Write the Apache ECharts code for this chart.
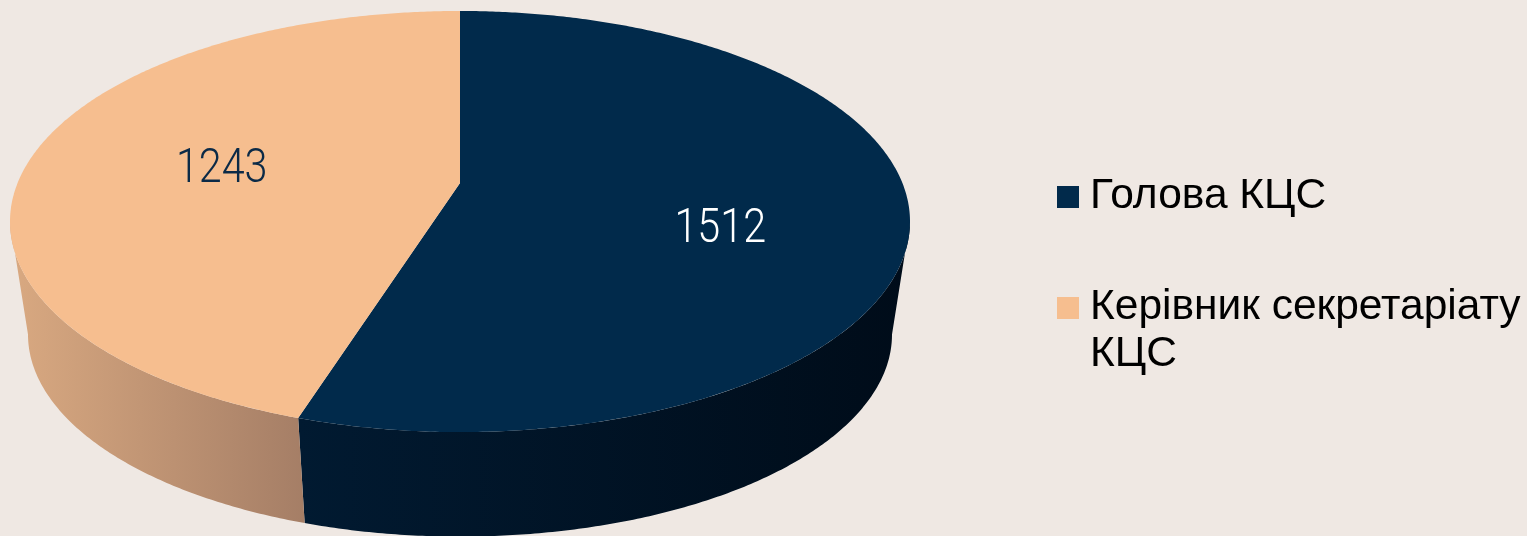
<!DOCTYPE html>
<html><head><meta charset="utf-8">
<script src="https://cdn.jsdelivr.net/npm/echarts@6/dist/echarts.min.js"></script>
<style>html,body{margin:0;padding:0;background:#efe8e3}#c{width:1527px;height:536px}</style>
</head><body><div id="c"></div>
<script>
// ---- data ----
const categories = ['Голова КЦС', 'Керівник секретаріату КЦС'];
const values = [1512, 1243];

// ---- style / layout ----
const topColors = ['#012a4b', '#f6be8f'];
const sideStops = [['#011a31', '#000c19'], ['#d9a981', '#a57e66']];
const labelColors = ['#ffffff', '#0b2a47'];
const L = {
  cx: 460, topY: 183, a: 442.4, b: 203.5, k: 0.183,
  botY: 297.5, botScale: 0.96,
  labelR: 0.57, labelDx: 7, labelDy: [29, 4],
  labelFont: '300 48px Roboto', labelScaleX: 0.86,
  legendX: 1057, legendY: [186, 297], box: 22, legendTextX: 1090, legendTextDy: -13,
  legendFont: '42.5px "Liberation Sans", Arial, sans-serif', legendLineH: 47, legendMaxW: 460
};

const total = values.reduce((s, v) => s + v, 0);
const starts = [];
values.reduce((acc, v) => { starts.push(acc); return acc + v / total * 360; }, 0);
// silhouette angles of the perspective disc (leftmost / rightmost points)
const silR = Math.acos(-L.k) * 180 / Math.PI, silL = 360 - silR;

function proj(thetaDeg, r, bottom) {
  const t = thetaDeg * Math.PI / 180;
  const u = r * Math.sin(t), v = -r * Math.cos(t);
  const w = 1 - L.k * v;
  const s = bottom ? L.botScale : 1;
  const cy = bottom ? L.botY : L.topY;
  return [L.cx + L.a * s * u / w, cy + L.b * s * v / w];
}
function arc(t0, t1, bottom) {
  const pts = [];
  const n = Math.max(2, Math.ceil(Math.abs(t1 - t0) * 2));
  for (let i = 0; i <= n; i++) pts.push(proj(t0 + (t1 - t0) * i / n, 1, bottom));
  return pts;
}

function renderItem(params, api) {
  const i = params.dataIndex;
  const t0 = starts[i], t1 = t0 + api.value(0) / total * 360;
  const children = [];
  // visible outer side (front part between silhouettes)
  const s0 = Math.max(t0, silR), s1 = Math.min(t1, silL);
  if (s1 > s0) {
    const pts = arc(s0, s1, false).concat(arc(s1, s0, true));
    children.push({
      type: 'polygon', z2: 1, shape: { points: pts },
      style: { fill: new echarts.graphic.LinearGradient(0, 0, 1, 0, [
        { offset: 0, color: sideStops[i][0] }, { offset: 1, color: sideStops[i][1] }]) }
    });
  }
  // top face
  const top = [proj(0, 0, false)].concat(arc(t0, t1, false));
  children.push({ type: 'polygon', z2: 10, shape: { points: top }, style: { fill: topColors[i] } });
  // value label
  const mid = (t0 + t1) / 2;
  const p = proj(mid, L.labelR, false);
  children.push({
    type: 'text', z2: 20, x: p[0] + L.labelDx, y: p[1] + L.labelDy[i], scaleX: L.labelScaleX,
    style: { text: String(api.value(0)), fill: labelColors[i], font: L.labelFont, align: 'center', verticalAlign: 'middle' }
  });
  return { type: 'group', children };
}

// legend text wrapping
const mc = document.createElement('canvas').getContext('2d');
mc.font = L.legendFont;
function wrap(str) {
  const words = str.split(' '); const lines = []; let cur = '';
  words.forEach(w => {
    const t = cur ? cur + ' ' + w : w;
    if (cur && mc.measureText(t).width > L.legendMaxW) { lines.push(cur); cur = w; } else cur = t;
  });
  if (cur) lines.push(cur);
  return lines.join('\n');
}

const legendEls = [];
categories.forEach((c, i) => {
  legendEls.push({ type: 'rect', left: L.legendX, top: L.legendY[i], shape: { width: L.box, height: L.box }, style: { fill: topColors[i] } });
  legendEls.push({ type: 'text', left: L.legendTextX, top: L.legendY[i] + L.legendTextDy,
    style: { text: wrap(c), fill: '#000000', font: L.legendFont, lineHeight: L.legendLineH } });
});

const chart = echarts.init(document.getElementById('c'), null, { renderer: 'canvas' });
chart.setOption({
  backgroundColor: '#efe8e3',
  animation: false,
  series: [{
    type: 'custom', coordinateSystem: 'none', renderItem,
    data: values.map((v, i) => ({ name: categories[i], value: [v] }))
  }],
  graphic: legendEls
});
</script></body></html>
